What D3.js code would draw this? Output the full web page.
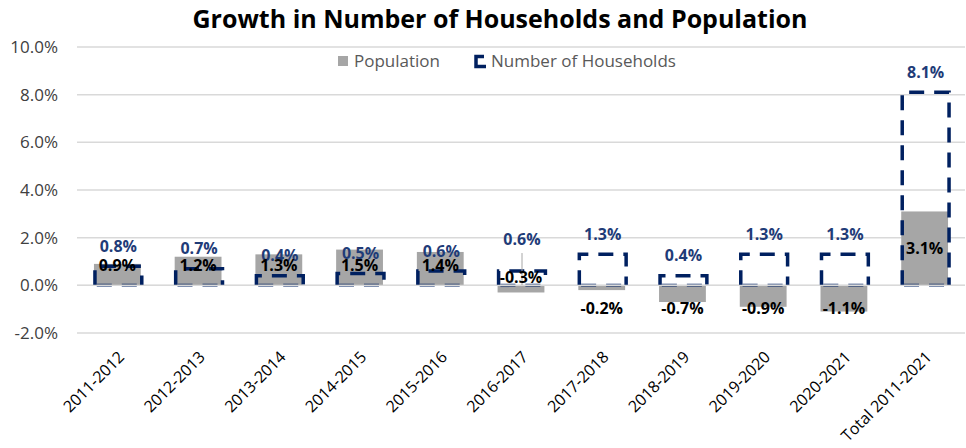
<!DOCTYPE html>
<html><head><meta charset="utf-8">
<script src="https://cdn.jsdelivr.net/npm/d3@7"></script>
<style>body{margin:0;background:#fff}svg{display:block}</style>
</head><body>
<svg id="c" width="966" height="448"></svg>
<script>
const categories = ["2011-2012","2012-2013","2013-2014","2014-2015","2015-2016","2016-2017","2017-2018","2018-2019","2019-2020","2020-2021","Total 2011-2021"];
const population = [0.9,1.2,1.3,1.5,1.4,-0.3,-0.2,-0.7,-0.9,-1.1,3.1];
const households = [0.8,0.7,0.4,0.5,0.6,0.6,1.3,0.4,1.3,1.3,8.1];
const yTicks = [-2,0,2,4,6,8,10];
const title = "Growth in Number of Households and Population";
const seriesNames = ["Population","Number of Households"];

const svg = d3.select("#c");
const navy = "#002060", gray = "#a6a6a6";
const font = "'Open Sans', sans-serif";

const x = d3.scaleBand().domain(categories).range([77,965]).paddingInner(0.42).paddingOuter(0.21);
const y = d3.scaleLinear().domain([-2,10]).range([333,47]);

// title
svg.append("text").attr("x",500).attr("y",28).attr("text-anchor","middle")
  .attr("font-family",font).attr("font-weight","bold").attr("font-size",25).attr("fill","#000").text(title);

// grid
svg.append("g").selectAll("line").data(yTicks).join("line")
  .attr("x1",77).attr("x2",965).attr("y1",d=>y(d)).attr("y2",d=>y(d))
  .attr("stroke","#d9d9d9").attr("stroke-width",1.5);

// y axis labels
svg.append("g").selectAll("text").data(yTicks).join("text")
  .attr("x",58).attr("y",d=>y(d)).attr("dy","0.35em").attr("text-anchor","end")
  .attr("font-family",font).attr("font-size",17).attr("fill","#404040")
  .text(d=>d.toFixed(1)+"%");

// population bars
svg.append("g").selectAll("rect").data(categories).join("rect")
  .attr("x",d=>x(d)).attr("width",x.bandwidth())
  .attr("y",(d,i)=>y(Math.max(0,population[i])))
  .attr("height",(d,i)=>Math.abs(y(population[i])-y(0)))
  .attr("fill",gray);

// household dashed bars
const hg = svg.append("g");
categories.forEach((c,i)=>{
  const x0 = x(c)+1, x1 = x(c)+x.bandwidth()+1, yt = y(households[i]), yb = y(0);
  const p = d3.path();
  p.moveTo(x0,yb); p.lineTo(x0,yt); p.lineTo(x1,yt); p.lineTo(x1,yb);
  hg.append("path").attr("d",p.toString()).attr("fill","none").attr("stroke",navy)
    .attr("stroke-width",3.5).attr("stroke-dasharray","15,10");
  const b = d3.path(); b.moveTo(x1,yb); b.lineTo(x0,yb);
  hg.append("path").attr("d",b.toString()).attr("fill","none").attr("stroke",navy).attr("stroke-opacity",0.5)
    .attr("stroke-width",3.5).attr("stroke-dasharray","15,10").attr("stroke-dashoffset",-5);
});
// zero line over
svg.append("line").attr("x1",77).attr("x2",965).attr("y1",y(0)).attr("y2",y(0))
  .attr("stroke","#d9d9d9").attr("stroke-width",1.2);

// household labels
categories.forEach((c,i)=>{
  const cx = x(c)+x.bandwidth()/2+1;
  let ly = y(households[i]) - 20;
  if (population[i] < 0 && population[i] > -0.5 && households[i] < 1) {
    ly = y(households[i]) - 32;
    svg.append("line").attr("x1",cx).attr("x2",cx).attr("y1",ly+14).attr("y2",y(households[i])+14)
      .attr("stroke","#a6a6a6").attr("stroke-width",1);
  }
  svg.append("text").attr("x",cx).attr("y",ly).attr("dy","0.35em").attr("text-anchor","middle")
    .attr("font-family",font).attr("font-weight","bold").attr("font-size",16).attr("fill","#1f3c78")
    .text(households[i].toFixed(1)+"%");
});

// population labels
categories.forEach((c,i)=>{
  const cx = x(c)+x.bandwidth()/2;
  const v = population[i];
  let ly;
  if (v >= 0) ly = Math.min((y(v)+y(0))/2, y(0)-20);
  else if (v > -0.5 && households[i] < 1) ly = y(0)-8;
  else ly = y(0)+23;
  svg.append("text").attr("x",cx).attr("y",ly).attr("dy","0.35em").attr("text-anchor","middle")
    .attr("font-family",font).attr("font-weight","bold").attr("font-size",16).attr("fill","#000")
    .text(v.toFixed(1)+"%");
});

// x labels
svg.append("g").selectAll("text").data(categories).join("text")
  .attr("transform",d=>`translate(${x(d)+x.bandwidth()/2+4},${354}) rotate(-45)`)
  .attr("text-anchor","end").attr("dy","0.35em")
  .attr("font-family",font).attr("font-size",16).attr("fill","#000").text(d=>d);

// legend
const lg = svg.append("g").attr("font-family",font).attr("font-size",17).attr("fill","#595959");
lg.append("rect").attr("x",338).attr("y",56).attr("width",10).attr("height",10).attr("fill",gray);
lg.append("text").attr("x",354).attr("y",61).attr("dy","0.35em").text(seriesNames[0]);
const ip = d3.path(); ip.moveTo(484,56.5); ip.lineTo(476,56.5); ip.lineTo(476,66.5); ip.lineTo(486,66.5);
lg.append("path").attr("d",ip.toString()).attr("fill","none").attr("stroke",navy).attr("stroke-width",3.5);
lg.append("text").attr("x",491).attr("y",61).attr("dy","0.35em").text(seriesNames[1]);
</script>
</body></html>
